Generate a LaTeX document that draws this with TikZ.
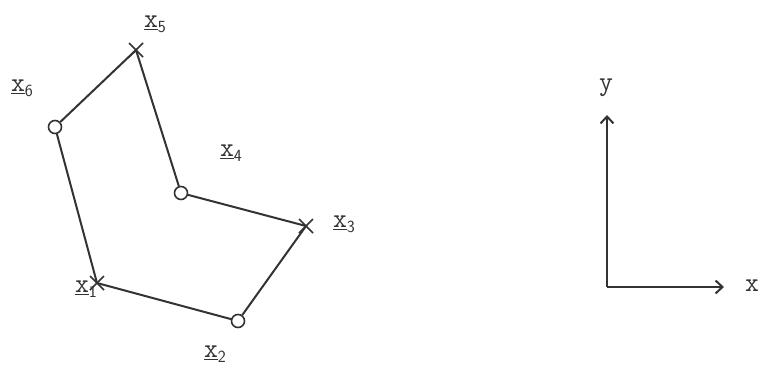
\documentclass[tikz,border=0pt]{standalone}
\usepackage{fontspec}
\setmonofont{Latin Modern Mono}
\usetikzlibrary{arrows.meta}
\newcommand{\vlab}[1]{\underline{x}\raisebox{-0.4ex}{\fontsize{17}{17}\selectfont\sffamily #1}}
\tikzset{
  edge/.style={line width=2pt, draw=black!80},
  xmark/.style={line width=1.6pt, draw=black!80},
  omark/.style={circle, draw=black!80, line width=1.6pt, minimum size=13pt, inner sep=0pt},
  lab/.style={font=\fontsize{27}{27}\selectfont\ttfamily, inner sep=0pt, text=black!80},
  axis/.style={line width=2pt, draw=black!80, -{Straight Barb[length=7pt,width=13pt,line width=2pt]}}
}
\begin{document}
\begin{tikzpicture}[x=1pt,y=-1pt]
\useasboundingbox (0,0) rectangle (758,367);
% vertices
\coordinate (p1) at (97,283);
\node[omark] (p2) at (238,321) {};
\coordinate (p3) at (306,226);
\node[omark] (p4) at (181,193) {};
\coordinate (p5) at (136,50);
\node[omark] (p6) at (55,127) {};
% crosses
\foreach \c in {p1,p3,p5}{
  \draw[xmark] ([shift={(-7,-7)}]\c) -- ([shift={(7,7)}]\c);
  \draw[xmark] ([shift={(-7,7)}]\c) -- ([shift={(7,-7)}]\c);
}
% polygon
\draw[edge] (p1) -- (p2) -- (p3) -- (p4) -- (p5) -- (p6) -- (p1);
% labels
\node[lab] (l1) at (86,289) {\vlab{1}};
\node[lab] (l2) at (215,354) {\vlab{2}};
\node[lab] (l3) at (344,224) {\vlab{3}};
\node[lab] (l4) at (231,153) {\vlab{4}};
\node[lab] (l5) at (155,24) {\vlab{5}};
\node[lab] (l6) at (22,88) {\vlab{6}};
% axes
\coordinate (o) at (607,287);
\coordinate (ytip) at (607,115);
\coordinate (xtip) at (724,287);
\draw[axis] (o) -- (ytip);
\draw[axis] (o) -- (xtip);
\node[lab] (ly) at (606,88) {y};
\node[lab] (lx) at (752,286) {x};
\end{tikzpicture}
\end{document}
